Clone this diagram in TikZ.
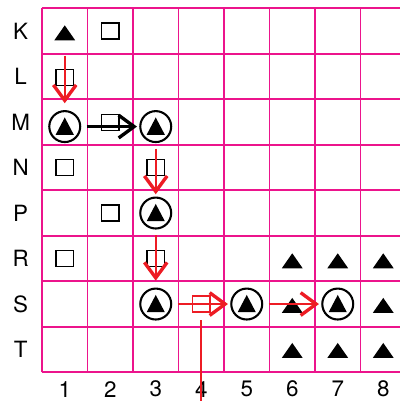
\documentclass[tikz,border=0pt]{standalone}
\usepackage{fontspec}
\setmainfont{TeX Gyre Heros}
\usetikzlibrary{arrows.meta}
\definecolor{gridpink}{RGB}{236,20,140}
\definecolor{arrowred}{RGB}{237,28,36}

\begin{document}
\begin{tikzpicture}[
  every node/.style={font=\fontsize{14}{16}\selectfont,inner sep=0pt},
  tri/.style={minimum width=0.46cm,minimum height=0.33cm,
    path picture={\fill (path picture bounding box.south west) --
      (path picture bounding box.south east) --
      (path picture bounding box.north) -- cycle;}},
  ring/.style={circle,draw,line width=1.3pt,minimum size=0.68cm,
    path picture={\fill ([xshift=-0.2cm,yshift=-0.18cm]path picture bounding box.center) --
      ([xshift=0.2cm,yshift=-0.18cm]path picture bounding box.center) --
      ([yshift=0.2cm]path picture bounding box.center) -- cycle;}},
  box/.style={draw,line width=0.8pt,minimum width=0.39cm,minimum height=0.35cm},
  link/.style={line width=1.5pt,shorten <=0.12cm,shorten >=0.05cm,
    -{Straight Barb[length=0.34cm,width=0.5cm,line width=2.1pt]}}]
  \clip (-0.923,-0.631) rectangle (7.868,8.182);
  \draw[gridpink,line width=1.2pt] (0,0) grid (8,8);
  \foreach \r [count=\i] in {K,L,M,N,P,R,S,T}
    \node (row\r) at (-0.47,8.5-\i) {\r};
  \foreach \c in {1,...,8}
    \node (col\c) at (\c-0.5,-0.37) {\c};

  \node[tri] (k1) at (0.5,7.46) {};
  \foreach \c in {6,7,8} {
    \node[tri] (r\c) at (\c-0.5,2.45) {};
    \node[tri] (t\c) at (\c-0.5,0.48) {};
  }
  \node[tri] (s6) at (5.5,1.47) {};
  \node[tri] (s8) at (7.5,1.47) {};

  \node[box] (k2) at (1.5,7.5) {};
  \node[box] (l1) at (0.5,6.48) {};
  \node[box] (m2) at (1.5,5.49) {};
  \node[box] (n1) at (0.5,4.5) {};
  \node[box] (n3) at (2.5,4.5) {};
  \node[box] (p2) at (1.5,3.5) {};
  \node[box] (r1) at (0.5,2.5) {};
  \node[box] (r3) at (2.5,2.5) {};
  \node[box,arrowred] (s4) at (3.5,1.5) {};

  \node[ring] (m1) at (0.5,5.4) {};
  \node[ring] (m3) at (2.5,5.4) {};
  \node[ring] (p3) at (2.5,3.5) {};
  \node[ring] (s3) at (2.5,1.5) {};
  \node[ring] (s5) at (4.5,1.5) {};
  \node[ring] (s7) at (6.5,1.5) {};

  \draw[link,arrowred,shorten <=0.33cm,shorten >=0.15cm] (k1) -- (m1);
  \draw[link] (m1) -- (m3);
  \draw[link,arrowred] (m3) -- (p3);
  \draw[link,arrowred,shorten >=0.15cm] (p3) -- (s3);
  \draw[link,arrowred] (s3) -- (s5);
  \draw[link,arrowred] (s5) -- (s7);
  \coordinate (out) at (3.5,-0.8);
  \draw[arrowred,line width=1.1pt,shorten <=0.17cm] (s4) -- (out);
\end{tikzpicture}
\end{document}
